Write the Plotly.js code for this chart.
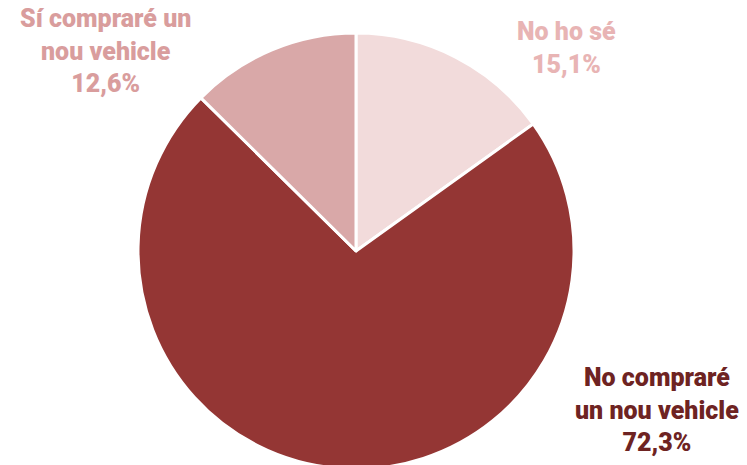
<!DOCTYPE html>
<html>
<head>
<meta charset="utf-8">
<script src="https://cdn.plot.ly/plotly-3.0.1.min.js"></script>
<style>
html,body{margin:0;padding:0;overflow:hidden;background:#fff;}
#chart{width:747px;height:470px;}
</style>
</head>
<body>
<div id="chart"></div>
<script>
const categories = ["No ho sé", "No compraré un nou vehicle", "Sí compraré un nou vehicle"];
const labelLines = ["No ho sé", "No compraré<br>un nou vehicle", "Sí compraré un<br>nou vehicle"];
const values = [15.1, 72.3, 12.6];
const sliceColors = ["#f2dbdb", "#943634", "#d9a8a8"];
const textColors = ["#e8b4b4", "#6e2322", "#d99d9d"];

const W = 747, H = 470;
const cx = 356, cy = 251, r = 218;

const labelPos = [
  {x: 566, y: 48},
  {x: 657, y: 410},
  {x: 106, y: 51}
];

function fmt(v){ return v.toFixed(1).replace('.', ',') + '%'; }

const annotations = categories.map((c, i) => ({
  xref: 'paper', yref: 'paper',
  x: labelPos[i].x / W, y: 1 - labelPos[i].y / H,
  xanchor: 'center', yanchor: 'middle',
  text: labelLines[i] + '<br>' + fmt(values[i]),
  showarrow: false,
  align: 'center',
  font: {family: 'Roboto', size: 25, color: textColors[i], weight: 900}
}));

const trace = {
  type: 'pie',
  labels: categories,
  values: values,
  sort: false,
  direction: 'clockwise',
  rotation: 0,
  textinfo: 'none',
  hoverinfo: 'none',
  marker: {colors: sliceColors, line: {color: '#ffffff', width: 3}},
  domain: {
    x: [(cx - r) / W, (cx + r) / W],
    y: [1 - (cy + r) / H, 1 - (cy - r) / H]
  },
  showlegend: false
};

Plotly.newPlot('chart', [trace], {
  width: W, height: H,
  margin: {l: 0, r: 0, t: 0, b: 0},
  paper_bgcolor: '#ffffff',
  showlegend: false,
  annotations: annotations
}, {displayModeBar: false, staticPlot: true});
</script>
</body>
</html>
